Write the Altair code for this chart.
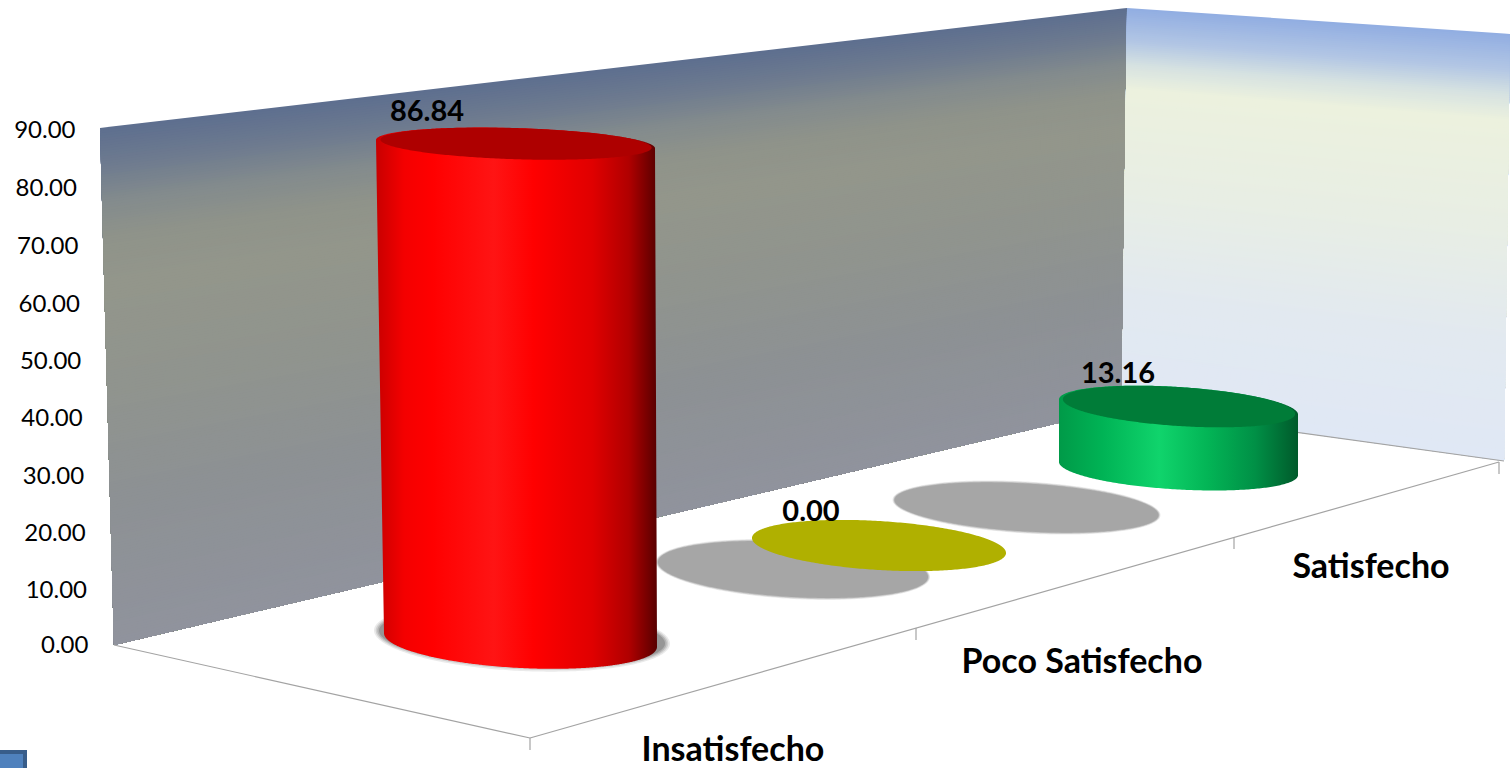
import altair as alt
import numpy as np
import pandas as pd

# Chart values
categories = ["Insatisfecho", "Poco Satisfecho", "Satisfecho"]
values = [86.84, 0.00, 13.16]
tick_values = [0, 10, 20, 30, 40, 50, 60, 70, 80, 90]

W, H = 1510, 768
ZERO_PX, PX_PER_UNIT = 645.0, 5.733


def val(py):
    """Convert a screen row into units of the vertical value scale."""
    return (ZERO_PX - py) / PX_PER_UNIT


x_scale = alt.Scale(domain=[0, W], range=[0, W], nice=False, zero=False)
y_scale = alt.Scale(domain=[val(H), val(0)], range=[H, 0], nice=False, zero=False)
# The tick labels follow the slanted left edge of the back wall.
y_axis = alt.Axis(
    values=tick_values, format=".2f", domain=False, ticks=False, grid=False,
    offset=-99, labelFontSize=24, labelFont="Lato", labelColor="#000000",
    labelPadding=alt.ExprRef("24 - (90 - datum.value) * 0.144"),
    labelOffset=alt.ExprRef("min(3, datum.value * 0.25, 1 + (90 - datum.value) * 0.1)"),
    labelFlush=False, labelOverlap=False,
)


def enc_x():
    return alt.X("x:Q", scale=x_scale, axis=None)


def enc_y():
    return alt.Y("y:Q", scale=y_scale, axis=y_axis, title=None, stack=None)


def enc_y2():
    return alt.Y2("y2:Q")


def band(upper, lower):
    """Table for an area between two polylines given as (x, row) points."""
    ux, uy = zip(*upper)
    lx, ly = zip(*lower)
    xs = np.unique(np.concatenate([ux, lx]))
    return pd.DataFrame({
        "x": xs,
        "y": val(np.interp(xs, ux, uy)),
        "y2": val(np.interp(xs, lx, ly)),
    })


def quad(points):
    """Split a convex polygon at its extreme columns and tabulate it as a band."""
    pts = sorted(points)
    left, right = pts[0], pts[-1]
    slope = (right[1] - left[1]) / (right[0] - left[0])
    upper, lower = [left], [left]
    for p in pts[1:-1]:
        (upper if p[1] < left[1] + slope * (p[0] - left[0]) else lower).append(p)
    return band(upper + [right], lower + [right])


def ellipse_edges(cx, cy, a, b, s, n=160):
    """Upper and lower rims of a sheared ellipse seen on the floor."""
    t = np.linspace(np.pi, 0, n)
    x = cx + a * np.cos(t)
    mid = cy + s * (x - cx)
    return list(zip(x, mid - b * np.sin(t))), list(zip(x, mid + b * np.sin(t)))


def ellipse(cx, cy, a, b, s):
    up, low = ellipse_edges(cx, cy, a, b, s)
    return band(up, low)


def area(df, **mark):
    return alt.Chart(df).mark_area(orient="vertical", **mark).encode(
        x=enc_x(), y=enc_y(), y2=enc_y2()
    )


def mix(stops, f):
    """Interpolate an RGB colour out of (position, colour) stops."""
    pos = [p for p, _ in stops]
    rgb = [np.interp(f, pos, [c[i] for _, c in stops]) for i in range(3)]
    return "#%02x%02x%02x" % tuple(int(round(v)) for v in rgb)


def wall(tl, tr, br, bl, stops, n=200):
    """Shaded wall painted from the top down, with bands following its perspective."""
    frames = []
    for k, f in enumerate(np.linspace(0, 1, n, endpoint=False)):
        a = (tl[0] + (bl[0] - tl[0]) * f, tl[1] + (bl[1] - tl[1]) * f)
        b = (tr[0] + (br[0] - tr[0]) * f, tr[1] + (br[1] - tr[1]) * f)
        d = quad([a, b, br, bl])
        d["band"] = k
        d["shade"] = mix(stops, f)
        frames.append(d)
    return alt.Chart(pd.concat(frames)).mark_area(orient="vertical").encode(
        x=enc_x(), y=enc_y(), y2=enc_y2(),
        color=alt.Color("shade:N", scale=None),
        detail="band:O",
    )


def h_gradient(stops):
    return alt.Gradient(
        gradient="linear", x1=0, x2=1, y1=0, y2=0,
        stops=[alt.GradientStop(offset=o, color=c) for o, c in stops],
    )


def cylinder(value, depth, top, base, stops, lid):
    """Cylinder whose height comes from its value, foreshortened by its floor depth."""
    tx, ta, tb, ts = top
    bx, by, ba, bb, bs = base
    ty = by - value * depth * PX_PER_UNIT
    t_up, _ = ellipse_edges(tx, ty, ta, tb, ts)
    _, b_low = ellipse_edges(bx, by, ba, bb, bs)
    upper = t_up + [b_low[-1]] if b_low[-1][0] > t_up[-1][0] else t_up
    lower = [t_up[0]] + b_low + ([t_up[-1]] if t_up[-1][0] > b_low[-1][0] else [])
    body = area(band(upper, lower), color=h_gradient(stops))
    cap = area(ellipse(tx + 0.5, ty - 0.5, ta * 0.972, tb * 0.975, ts), color=lid)
    return body + cap


def shadow(cx, cy, a, b, s, grow, colour):
    """Soft floor shadow built from a few nested translucent ellipses."""
    layers = [
        area(ellipse(cx, cy, a + grow, b + grow, s), color=colour, opacity=0.2),
        area(ellipse(cx, cy, a + grow * 0.66, b + grow * 0.66, s), color=colour, opacity=0.3),
        area(ellipse(cx, cy, a + grow * 0.33, b + grow * 0.33, s), color=colour, opacity=0.5),
        area(ellipse(cx, cy, a, b, s), color=colour),
    ]
    return alt.layer(*layers)


def segments(rows):
    return alt.Chart(pd.DataFrame(rows)).mark_rule(color="#a3a3a3", strokeWidth=1.2).encode(
        x=enc_x(), x2=alt.X2("x2:Q"), y=enc_y(), y2=enc_y2()
    )


def labels(texts, xs, rows, size):
    df = pd.DataFrame({"x": xs, "y": [val(r) for r in rows], "label": texts})
    return alt.Chart(df).mark_text(
        font="Lato", fontWeight="bold", fontSize=size, color="#000000", align="center", baseline="middle"
    ).encode(x=enc_x(), y=enc_y(), text="label:N")


back_stops = [
    (0.00, (94, 111, 143)), (0.07, (110, 123, 143)), (0.14, (131, 139, 141)),
    (0.21, (143, 147, 138)), (0.30, (147, 150, 139)), (0.50, (144, 148, 142)),
    (0.72, (141, 145, 148)), (1.00, (144, 147, 157)),
]
side_stops = [
    (0.00, (146, 174, 226)), (0.08, (178, 198, 228)), (0.14, (214, 226, 225)),
    (0.20, (236, 241, 222)), (0.45, (232, 238, 228)), (0.72, (226, 233, 240)),
    (1.00, (224, 232, 245)),
]

back_wall = wall((100, 128), (1127, 8), (1122, 408), (114, 645), back_stops)
side_wall = wall((1127, 8), (1510, 34), (1504, 461), (1122, 408), side_stops)

floor_lines = segments([
    {"x": 114, "y": val(645), "x2": 530, "y2": val(738)},
    {"x": 530, "y": val(738), "x2": 1499, "y2": val(462)},
    {"x": 1122, "y": val(408), "x2": 1504, "y2": val(461)},
    {"x": 530, "y": val(738), "x2": 530, "y2": val(750)},
    {"x": 916, "y": val(628), "x2": 916, "y2": val(640)},
    {"x": 1234, "y": val(537), "x2": 1234, "y2": val(549)},
    {"x": 1499, "y": val(462), "x2": 1499, "y2": val(474)},
])

shadows = alt.layer(
    shadow(793, 569.5, 135, 27.5, 0.055, 2, "#a6a6a6"),
    shadow(1026.5, 507.5, 132, 24, 0.057, 2, "#a6a6a6"),
    shadow(522, 637, 143, 29, 0.045, 5, "#969696"),
)

red_stops = [
    (0.00, "#c80000"), (0.10, "#f40000"), (0.20, "#ff0000"), (0.42, "#ff1414"),
    (0.56, "#ff0000"), (0.77, "#e00000"), (0.90, "#b00000"), (1.00, "#580000"),
]
green_stops = [
    (0.00, "#009a48"), (0.18, "#00b355"), (0.42, "#10d46c"), (0.62, "#03b556"),
    (0.82, "#009046"), (1.00, "#005a2b"),
]

red_cylinder = cylinder(values[0], 0.996, (515.5, 139.5, 16, 0.03), (520.5, 640, 136.5, 28, 0.05), red_stops, "#ae0000")
olive_disc = area(ellipse(879, 545.5, 127, 24.5, 0.059), color="#b0b000")
green_cylinder = cylinder(values[2], 0.815, (1178.5, 119.5, 20, 0.063), (1178.5, 468.5, 119.5, 21, 0.055), green_stops, "#007c38")

value_labels = labels([f"{v:.2f}" for v in values], [427, 811, 1118], [112, 512, 374], 29)
category_labels = labels(categories, [733, 1082, 1371], [751, 663, 568], 34)

corner_button = alt.layer(
    area(band([(0, 750), (27, 750)], [(0, 768), (27, 768)]), color="#385d8a"),
    area(band([(0, 754), (23, 754)], [(0, 768), (23, 768)]), color="#4f81bd"),
)

chart = alt.layer(
    back_wall, side_wall, floor_lines, shadows, olive_disc, red_cylinder, green_cylinder,
    value_labels, category_labels, corner_button,
).properties(
    width=W, height=H, padding=0, autosize=alt.AutoSizeParams(type="none"),
    background="#ffffff",
).configure_view(stroke=None)

chart.save("out.html", embed_options={"renderer": "svg", "actions": False})
